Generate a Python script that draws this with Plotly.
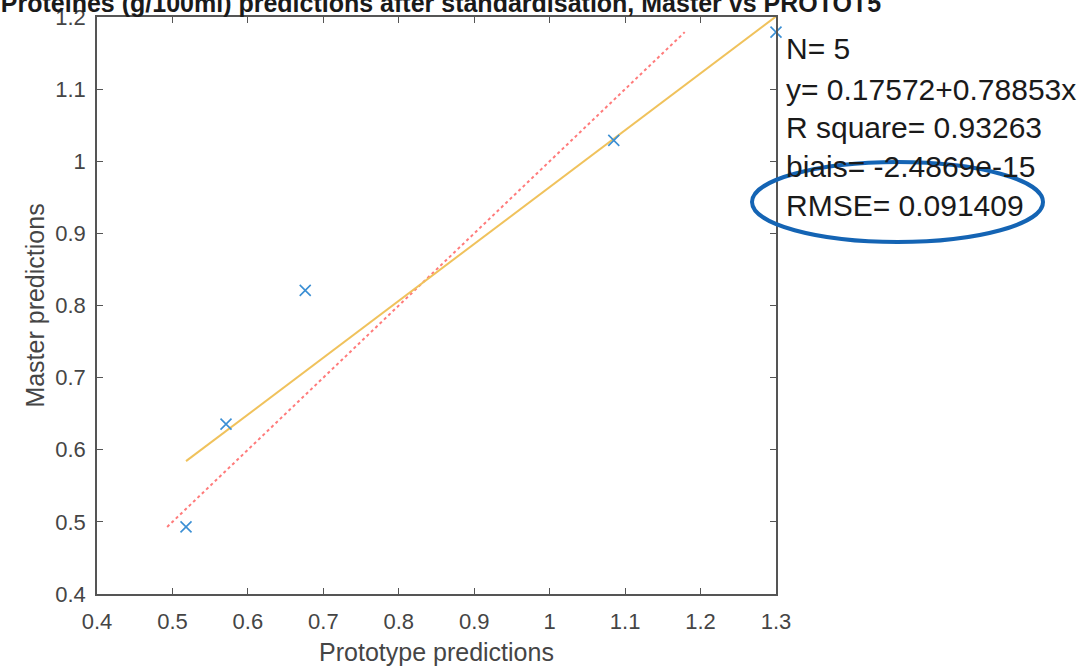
import numpy as np
import plotly.graph_objects as go

# Data
prototype = [0.518, 0.571, 0.676, 1.085, 1.300]
master = [0.493, 0.6355, 0.821, 1.029, 1.179]
fit_intercept = 0.17572
fit_slope = 0.78853
stats_lines = ["N= 5", "y= 0.17572+0.78853x", "R square= 0.93263",
               "biais= -2.4869e-15", "RMSE= 0.091409"]
x_ticks = [0.4, 0.5, 0.6, 0.7, 0.8, 0.9, 1.0, 1.1, 1.2, 1.3]
x_tick_text = ["0.4", "0.5", "0.6", "0.7", "0.8", "0.9", "1", "1.1", "1.2", "1.3"]
y_ticks = [0.4, 0.5, 0.6, 0.7, 0.8, 0.9, 1.0, 1.1, 1.2]
y_tick_text = ["0.4", "0.5", "0.6", "0.7", "0.8", "0.9", "1", "1.1", "1.2"]
title_text = "Protéines (g/100ml) predictions after standardisation, Master vs PROTOT5"

FONT = "Liberation Sans, Arial, sans-serif"
W, H = 1087, 668
L, T, R, B = 97, 17, 776, 594  # plot area in pixels

fig = go.Figure()

# identity line y = x spanning master range
ymin, ymax = min(master), max(master)
fig.add_trace(go.Scatter(x=[ymin, ymax], y=[ymin, ymax], mode="lines",
                         line=dict(color="#ff7b7b", width=2, dash="dot"),
                         showlegend=False, hoverinfo="skip"))

# regression line over prototype range
xmin, xmax = min(prototype), max(prototype)
fx = [xmin, xmax]
fy = [fit_intercept + fit_slope * v for v in fx]
fig.add_trace(go.Scatter(x=fx, y=fy, mode="lines",
                         line=dict(color="#f0c25c", width=2),
                         showlegend=False, hoverinfo="skip", cliponaxis=False))

fig.add_trace(go.Scatter(x=prototype, y=master, mode="markers",
                         marker=dict(symbol="x-thin", size=11,
                                     line=dict(color="#3b8fd4", width=1.6)),
                         showlegend=False, cliponaxis=False))

axis_common = dict(showgrid=False, zeroline=False, showline=True, mirror="ticks",
                   linecolor="#555555", linewidth=1.5, ticks="inside", ticklen=6,
                   tickcolor="#555555", automargin=False,
                   tickfont=dict(family=FONT, size=22, color="#454545"))

fig.update_xaxes(range=[0.4, 1.3], tickvals=x_ticks, ticktext=x_tick_text,
                 ticklabelstandoff=7,
                 title=dict(text="Prototype predictions",
                            font=dict(family=FONT, size=25, color="#454545"), standoff=10),
                 **axis_common)
fig.update_yaxes(range=[0.4, 1.2], tickvals=y_ticks, ticktext=y_tick_text,
                 ticklabelstandoff=5,
                 title=dict(text="Master predictions",
                            font=dict(family=FONT, size=25, color="#454545"), standoff=4),
                 **axis_common)

pw, ph = R - L, B - T

# stats text
y_pix = [49, 89, 128, 166, 205]
for txt, yp in zip(stats_lines, y_pix):
    fig.add_annotation(text=txt, xref="paper", yref="paper",
                       x=(784 - L) / pw, y=1 - (yp - T) / ph,
                       xanchor="left", yanchor="middle", showarrow=False,
                       font=dict(family=FONT, size=30, color="#1a1a1a"))

# highlight ellipse
fig.add_shape(type="circle", xref="paper", yref="paper",
              x0=(752 - L) / pw, x1=(1043 - L) / pw,
              y0=1 - (242 - T) / ph, y1=1 - (162 - T) / ph,
              line=dict(color="#1464b4", width=4))

fig.update_layout(
    width=W, height=H,
    margin=dict(l=L, r=W - R, t=T, b=H - B, autoexpand=False),
    paper_bgcolor="white", plot_bgcolor="white",
    title=dict(text="<b>" + title_text + "</b>", x=441 / W, xanchor="center",
               y=1 - 3 / H, yanchor="middle", yref="container",
               font=dict(family=FONT, size=25, color="#1a1a1a")),
)

fig.write_html("out.html", config={"displayModeBar": False},
               post_script="document.body.style.margin='0';document.body.style.overflow='hidden';")
